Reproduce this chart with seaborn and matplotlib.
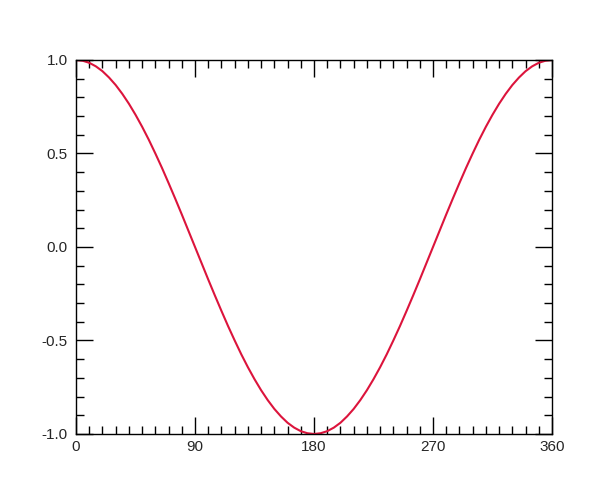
import matplotlib
matplotlib.use("Agg")
import matplotlib.pyplot as plt
import seaborn as sns
import pandas as pd
from matplotlib.ticker import MultipleLocator

# values, every 5 degrees
angle = list(range(0, 365, 5))
value = [1.000, 0.996, 0.985, 0.966, 0.940, 0.906, 0.866, 0.819, 0.766, 0.707,
         0.643, 0.574, 0.500, 0.423, 0.342, 0.259, 0.174, 0.087, 0.000,
         -0.087, -0.174, -0.259, -0.342, -0.423, -0.500, -0.574, -0.643, -0.707,
         -0.766, -0.819, -0.866, -0.906, -0.940, -0.966, -0.985, -0.996, -1.000,
         -0.996, -0.985, -0.966, -0.940, -0.906, -0.866, -0.819, -0.766, -0.707,
         -0.643, -0.574, -0.500, -0.423, -0.342, -0.259, -0.174, -0.087, 0.000,
         0.087, 0.174, 0.259, 0.342, 0.423, 0.500, 0.574, 0.643, 0.707,
         0.766, 0.819, 0.866, 0.906, 0.940, 0.966, 0.985, 0.996, 1.000]
x_ticks = [0, 90, 180, 270, 360]
y_ticks = [-1.0, -0.5, 0.0, 0.5, 1.0]

sns.set_style("ticks")
plt.rcParams['font.family'] = ['Liberation Sans', 'DejaVu Sans']
plt.rcParams['axes.unicode_minus'] = False

df = pd.DataFrame({"angle": angle, "value": value})

fig = plt.figure(figsize=(6, 4.99), dpi=100)
ax = fig.add_axes([0.1267, 0.1303, 0.7933, 0.7495])
sns.lineplot(data=df, x="angle", y="value", ax=ax, color="#DC143C", linewidth=1.5)

ax.set_xlim(0, 360)
ax.set_ylim(-1, 1)
ax.set_xticks(x_ticks)
ax.set_yticks(y_ticks)
ax.set_yticklabels([f"{v:.1f}" for v in y_ticks])
ax.xaxis.set_minor_locator(MultipleLocator(10))
ax.yaxis.set_minor_locator(MultipleLocator(0.1))
ax.set_xlabel("")
ax.set_ylabel("")

for s in ax.spines.values():
    s.set_visible(True)
    s.set_linewidth(1.0)
    s.set_color("black")

ax.tick_params(which="both", direction="in", top=True, right=True, width=1.0, color="black")
ax.tick_params(which="major", length=12.2, labelsize=11, pad=4)
ax.tick_params(which="minor", length=5.8)
ax.tick_params(axis="y", which="major", pad=6)

fig.savefig("out.png", dpi=100)
